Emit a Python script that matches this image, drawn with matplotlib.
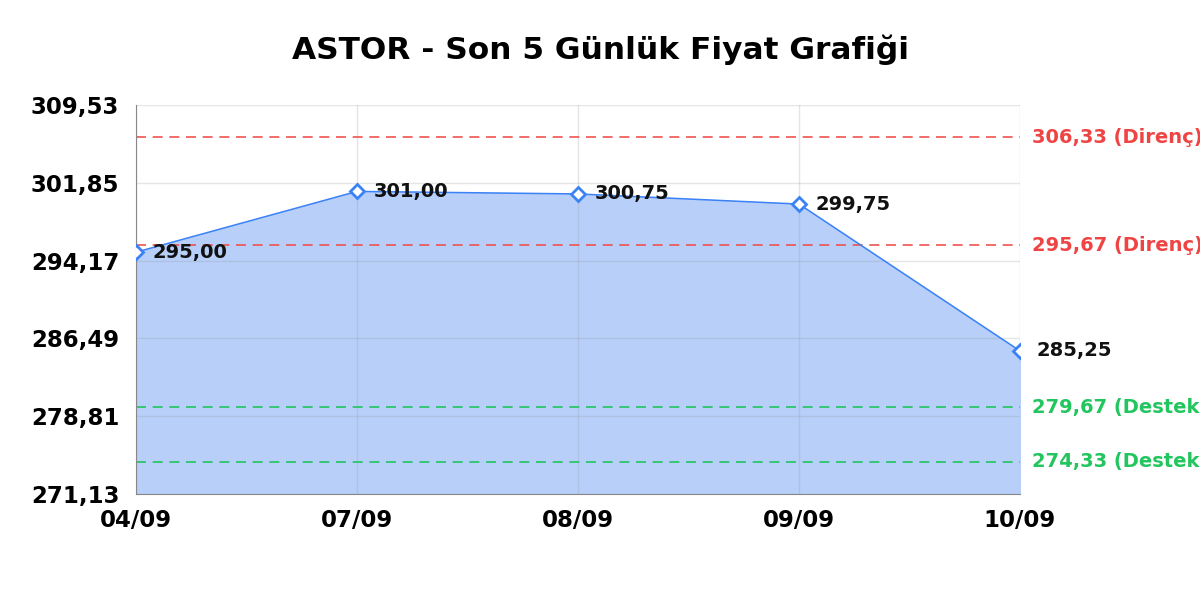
import matplotlib
matplotlib.use("Agg")
import matplotlib.pyplot as plt

# data
dates = ["04/09", "07/09", "08/09", "09/09", "10/09"]
prices = [295.00, 301.00, 300.75, 299.75, 285.25]
resistance = [306.33, 295.67]
support = [279.67, 274.33]
y_ticks = [271.13, 278.81, 286.49, 294.17, 301.85, 309.53]


def tr(v):
    return f"{v:.2f}".replace(".", ",")


plt.rcParams['font.family'] = ['DejaVu Sans']
fig = plt.figure(figsize=(12, 6), dpi=100)
ax = fig.add_axes([0.1133, 0.1767, 0.7367, 0.6483])

x = list(range(len(dates)))
ax.fill_between(x, prices, y_ticks[0], color="#b7cff9", zorder=1)
ax.plot(x, prices, color="#3b82f6", lw=1.1, zorder=3)
ax.plot(x, prices, ls="none", marker="D", ms=7, mfc="white", mec="#3b82f6", mew=2, zorder=4)

for xi, p in zip(x, prices):
    ax.annotate(tr(p), (xi, p), xytext=(12, 0), textcoords="offset points",
                ha="left", va="center", fontsize=14, fontweight="bold", color="#111111", zorder=5)

# the level labels run past the figure edge, as in the reference
for lvl in resistance:
    ax.axhline(lvl, color="#ef5350", ls=(0, (6, 4)), lw=1.2, zorder=2)
    ax.annotate(f"{tr(lvl)} (Direnç)", (1, lvl), xycoords=("axes fraction", "data"),
                xytext=(9, 0), textcoords="offset points", ha="left", va="center",
                fontsize=14, fontweight="bold", color="#ef4444", annotation_clip=False)
for lvl in support:
    ax.axhline(lvl, color="#22c55e", ls=(0, (6, 4)), lw=1.2, zorder=2)
    ax.annotate(f"{tr(lvl)} (Destek)", (1, lvl), xycoords=("axes fraction", "data"),
                xytext=(9, 0), textcoords="offset points", ha="left", va="center",
                fontsize=14, fontweight="bold", color="#22c55e", annotation_clip=False)

ax.set_xlim(0, len(dates) - 1)
ax.set_ylim(y_ticks[0], y_ticks[-1])
ax.set_xticks(x)
ax.set_xticklabels(dates)
ax.set_yticks(y_ticks)
ax.set_yticklabels([tr(v) for v in y_ticks])
ax.tick_params(axis="both", labelsize=16.5, length=0)
ax.tick_params(axis="y", pad=12)
ax.tick_params(axis="x", pad=11)
for lbl in ax.get_xticklabels() + ax.get_yticklabels():
    lbl.set_fontweight("bold")

ax.grid(True, color="#999999", alpha=0.25, lw=1, zorder=1.5)
for s in ["top", "right"]:
    ax.spines[s].set_visible(False)
for s in ["left", "bottom"]:
    ax.spines[s].set_color("#888888")

fig.suptitle("ASTOR - Son 5 Günlük Fiyat Grafiği", fontsize=22.5, fontweight="bold", y=0.942)

fig.savefig("out.png", dpi=100)
